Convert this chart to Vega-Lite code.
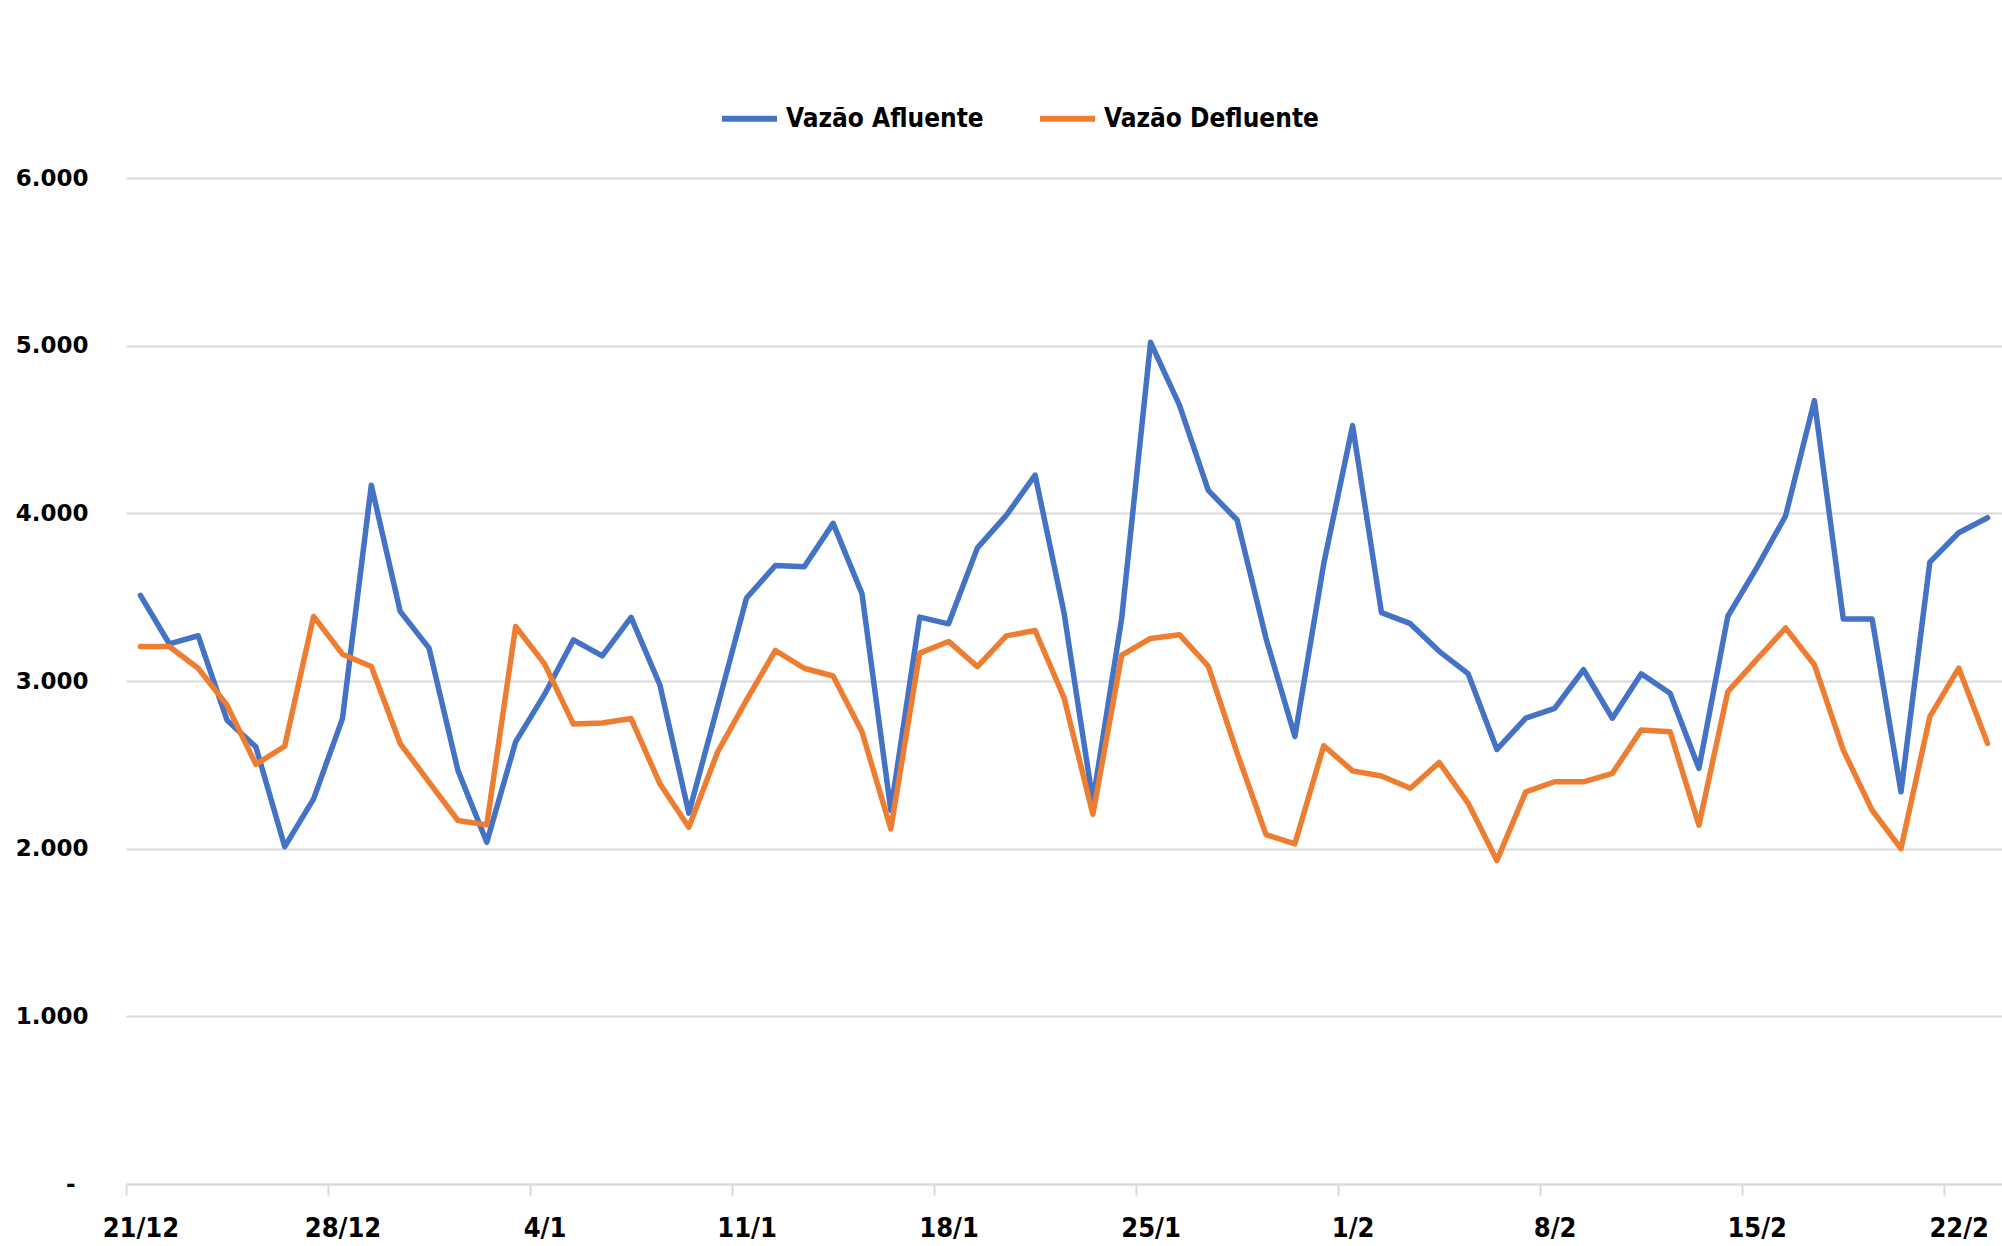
{
  "$schema": "https://vega.github.io/schema/vega-lite/v6.json",
  "width": 1876,
  "height": 1006,
  "autosize": {"type": "none"},
  "padding": {"left": 126, "top": 178, "right": 0, "bottom": 62},
  "background": "white",
  "config": {"view": {"stroke": null}},
  "datasets": {
    "vazao": [
      {"d": "2020-12-21T00:00", "s": "Vazão Afluente", "v": 3511}, {"d": "2020-12-21T00:00", "s": "Vazão Defluente", "v": 3206},
      {"d": "2020-12-22T00:00", "s": "Vazão Afluente", "v": 3222}, {"d": "2020-12-22T00:00", "s": "Vazão Defluente", "v": 3206},
      {"d": "2020-12-23T00:00", "s": "Vazão Afluente", "v": 3270}, {"d": "2020-12-23T00:00", "s": "Vazão Defluente", "v": 3076},
      {"d": "2020-12-24T00:00", "s": "Vazão Afluente", "v": 2766}, {"d": "2020-12-24T00:00", "s": "Vazão Defluente", "v": 2856},
      {"d": "2020-12-25T00:00", "s": "Vazão Afluente", "v": 2607}, {"d": "2020-12-25T00:00", "s": "Vazão Defluente", "v": 2503},
      {"d": "2020-12-26T00:00", "s": "Vazão Afluente", "v": 2012}, {"d": "2020-12-26T00:00", "s": "Vazão Defluente", "v": 2611},
      {"d": "2020-12-27T00:00", "s": "Vazão Afluente", "v": 2297}, {"d": "2020-12-27T00:00", "s": "Vazão Defluente", "v": 3385},
      {"d": "2020-12-28T00:00", "s": "Vazão Afluente", "v": 2776}, {"d": "2020-12-28T00:00", "s": "Vazão Defluente", "v": 3160},
      {"d": "2020-12-29T00:00", "s": "Vazão Afluente", "v": 4168}, {"d": "2020-12-29T00:00", "s": "Vazão Defluente", "v": 3086},
      {"d": "2020-12-30T00:00", "s": "Vazão Afluente", "v": 3415}, {"d": "2020-12-30T00:00", "s": "Vazão Defluente", "v": 2627},
      {"d": "2020-12-31T00:00", "s": "Vazão Afluente", "v": 3196}, {"d": "2020-12-31T00:00", "s": "Vazão Defluente", "v": 2397},
      {"d": "2021-01-01T00:00", "s": "Vazão Afluente", "v": 2467}, {"d": "2021-01-01T00:00", "s": "Vazão Defluente", "v": 2168},
      {"d": "2021-01-02T00:00", "s": "Vazão Afluente", "v": 2038}, {"d": "2021-01-02T00:00", "s": "Vazão Defluente", "v": 2142},
      {"d": "2021-01-03T00:00", "s": "Vazão Afluente", "v": 2637}, {"d": "2021-01-03T00:00", "s": "Vazão Defluente", "v": 3325},
      {"d": "2021-01-04T00:00", "s": "Vazão Afluente", "v": 2920}, {"d": "2021-01-04T00:00", "s": "Vazão Defluente", "v": 3102},
      {"d": "2021-01-05T00:00", "s": "Vazão Afluente", "v": 3245}, {"d": "2021-01-05T00:00", "s": "Vazão Defluente", "v": 2743},
      {"d": "2021-01-06T00:00", "s": "Vazão Afluente", "v": 3150}, {"d": "2021-01-06T00:00", "s": "Vazão Defluente", "v": 2750},
      {"d": "2021-01-07T00:00", "s": "Vazão Afluente", "v": 3379}, {"d": "2021-01-07T00:00", "s": "Vazão Defluente", "v": 2776},
      {"d": "2021-01-08T00:00", "s": "Vazão Afluente", "v": 2976}, {"d": "2021-01-08T00:00", "s": "Vazão Defluente", "v": 2387},
      {"d": "2021-01-09T00:00", "s": "Vazão Afluente", "v": 2212}, {"d": "2021-01-09T00:00", "s": "Vazão Defluente", "v": 2128},
      {"d": "2021-01-10T00:00", "s": "Vazão Afluente", "v": 2850}, {"d": "2021-01-10T00:00", "s": "Vazão Defluente", "v": 2577},
      {"d": "2021-01-11T00:00", "s": "Vazão Afluente", "v": 3495}, {"d": "2021-01-11T00:00", "s": "Vazão Defluente", "v": 2886},
      {"d": "2021-01-12T00:00", "s": "Vazão Afluente", "v": 3689}, {"d": "2021-01-12T00:00", "s": "Vazão Defluente", "v": 3182},
      {"d": "2021-01-13T00:00", "s": "Vazão Afluente", "v": 3681}, {"d": "2021-01-13T00:00", "s": "Vazão Defluente", "v": 3076},
      {"d": "2021-01-14T00:00", "s": "Vazão Afluente", "v": 3940}, {"d": "2021-01-14T00:00", "s": "Vazão Defluente", "v": 3030},
      {"d": "2021-01-15T00:00", "s": "Vazão Afluente", "v": 3521}, {"d": "2021-01-15T00:00", "s": "Vazão Defluente", "v": 2697},
      {"d": "2021-01-16T00:00", "s": "Vazão Afluente", "v": 2228}, {"d": "2021-01-16T00:00", "s": "Vazão Defluente", "v": 2118},
      {"d": "2021-01-17T00:00", "s": "Vazão Afluente", "v": 3381}, {"d": "2021-01-17T00:00", "s": "Vazão Defluente", "v": 3166},
      {"d": "2021-01-18T00:00", "s": "Vazão Afluente", "v": 3341}, {"d": "2021-01-18T00:00", "s": "Vazão Defluente", "v": 3236},
      {"d": "2021-01-19T00:00", "s": "Vazão Afluente", "v": 3794}, {"d": "2021-01-19T00:00", "s": "Vazão Defluente", "v": 3086},
      {"d": "2021-01-20T00:00", "s": "Vazão Afluente", "v": 3988}, {"d": "2021-01-20T00:00", "s": "Vazão Defluente", "v": 3269},
      {"d": "2021-01-21T00:00", "s": "Vazão Afluente", "v": 4228}, {"d": "2021-01-21T00:00", "s": "Vazão Defluente", "v": 3301},
      {"d": "2021-01-22T00:00", "s": "Vazão Afluente", "v": 3408}, {"d": "2021-01-22T00:00", "s": "Vazão Defluente", "v": 2901},
      {"d": "2021-01-23T00:00", "s": "Vazão Afluente", "v": 2283}, {"d": "2021-01-23T00:00", "s": "Vazão Defluente", "v": 2205},
      {"d": "2021-01-24T00:00", "s": "Vazão Afluente", "v": 3375}, {"d": "2021-01-24T00:00", "s": "Vazão Defluente", "v": 3155},
      {"d": "2021-01-25T00:00", "s": "Vazão Afluente", "v": 5020}, {"d": "2021-01-25T00:00", "s": "Vazão Defluente", "v": 3254},
      {"d": "2021-01-26T00:00", "s": "Vazão Afluente", "v": 4645}, {"d": "2021-01-26T00:00", "s": "Vazão Defluente", "v": 3276},
      {"d": "2021-01-27T00:00", "s": "Vazão Afluente", "v": 4137}, {"d": "2021-01-27T00:00", "s": "Vazão Defluente", "v": 3088},
      {"d": "2021-01-28T00:00", "s": "Vazão Afluente", "v": 3960}, {"d": "2021-01-28T00:00", "s": "Vazão Defluente", "v": 2570},
      {"d": "2021-01-29T00:00", "s": "Vazão Afluente", "v": 3254}, {"d": "2021-01-29T00:00", "s": "Vazão Defluente", "v": 2084},
      {"d": "2021-01-30T00:00", "s": "Vazão Afluente", "v": 2669}, {"d": "2021-01-30T00:00", "s": "Vazão Defluente", "v": 2029},
      {"d": "2021-01-31T00:00", "s": "Vazão Afluente", "v": 3700}, {"d": "2021-01-31T00:00", "s": "Vazão Defluente", "v": 2614},
      {"d": "2021-02-01T00:00", "s": "Vazão Afluente", "v": 4523}, {"d": "2021-02-01T00:00", "s": "Vazão Defluente", "v": 2464},
      {"d": "2021-02-02T00:00", "s": "Vazão Afluente", "v": 3408}, {"d": "2021-02-02T00:00", "s": "Vazão Defluente", "v": 2433},
      {"d": "2021-02-03T00:00", "s": "Vazão Afluente", "v": 3342}, {"d": "2021-02-03T00:00", "s": "Vazão Defluente", "v": 2360},
      {"d": "2021-02-04T00:00", "s": "Vazão Afluente", "v": 3177}, {"d": "2021-02-04T00:00", "s": "Vazão Defluente", "v": 2514},
      {"d": "2021-02-05T00:00", "s": "Vazão Afluente", "v": 3044}, {"d": "2021-02-05T00:00", "s": "Vazão Defluente", "v": 2272},
      {"d": "2021-02-06T00:00", "s": "Vazão Afluente", "v": 2592}, {"d": "2021-02-06T00:00", "s": "Vazão Defluente", "v": 1930},
      {"d": "2021-02-07T00:00", "s": "Vazão Afluente", "v": 2778}, {"d": "2021-02-07T00:00", "s": "Vazão Defluente", "v": 2339},
      {"d": "2021-02-08T00:00", "s": "Vazão Afluente", "v": 2837}, {"d": "2021-02-08T00:00", "s": "Vazão Defluente", "v": 2399},
      {"d": "2021-02-09T00:00", "s": "Vazão Afluente", "v": 3067}, {"d": "2021-02-09T00:00", "s": "Vazão Defluente", "v": 2399},
      {"d": "2021-02-10T00:00", "s": "Vazão Afluente", "v": 2778}, {"d": "2021-02-10T00:00", "s": "Vazão Defluente", "v": 2449},
      {"d": "2021-02-11T00:00", "s": "Vazão Afluente", "v": 3043}, {"d": "2021-02-11T00:00", "s": "Vazão Defluente", "v": 2708},
      {"d": "2021-02-12T00:00", "s": "Vazão Afluente", "v": 2927}, {"d": "2021-02-12T00:00", "s": "Vazão Defluente", "v": 2698},
      {"d": "2021-02-13T00:00", "s": "Vazão Afluente", "v": 2479}, {"d": "2021-02-13T00:00", "s": "Vazão Defluente", "v": 2140},
      {"d": "2021-02-14T00:00", "s": "Vazão Afluente", "v": 3386}, {"d": "2021-02-14T00:00", "s": "Vazão Defluente", "v": 2937},
      {"d": "2021-02-15T00:00", "s": "Vazão Afluente", "v": 3675}, {"d": "2021-02-15T00:00", "s": "Vazão Defluente", "v": 3127},
      {"d": "2021-02-16T00:00", "s": "Vazão Afluente", "v": 3984}, {"d": "2021-02-16T00:00", "s": "Vazão Defluente", "v": 3316},
      {"d": "2021-02-17T00:00", "s": "Vazão Afluente", "v": 4672}, {"d": "2021-02-17T00:00", "s": "Vazão Defluente", "v": 3097},
      {"d": "2021-02-18T00:00", "s": "Vazão Afluente", "v": 3370}, {"d": "2021-02-18T00:00", "s": "Vazão Defluente", "v": 2588},
      {"d": "2021-02-19T00:00", "s": "Vazão Afluente", "v": 3370}, {"d": "2021-02-19T00:00", "s": "Vazão Defluente", "v": 2229},
      {"d": "2021-02-20T00:00", "s": "Vazão Afluente", "v": 2339}, {"d": "2021-02-20T00:00", "s": "Vazão Defluente", "v": 2000},
      {"d": "2021-02-21T00:00", "s": "Vazão Afluente", "v": 3709}, {"d": "2021-02-21T00:00", "s": "Vazão Defluente", "v": 2788},
      {"d": "2021-02-22T00:00", "s": "Vazão Afluente", "v": 3884}, {"d": "2021-02-22T00:00", "s": "Vazão Defluente", "v": 3077},
      {"d": "2021-02-23T00:00", "s": "Vazão Afluente", "v": 3974}, {"d": "2021-02-23T00:00", "s": "Vazão Defluente", "v": 2628}
    ]
  },
  "data": {"name": "vazao"},
  "mark": {"type": "line", "strokeWidth": 5.5, "strokeJoin": "round", "strokeCap": "round"},
  "encoding": {
    "x": {
      "field": "d",
      "type": "temporal",
      "scale": {"domain": [{"year": 2020, "month": 12, "date": 20, "hours": 12}, {"year": 2021, "month": 2, "date": 23, "hours": 12}]},
      "axis": {
        "title": null,
        "values": [
          {"year": 2020, "month": 12, "date": 21}, {"year": 2020, "month": 12, "date": 28},
          {"year": 2021, "month": 1, "date": 4}, {"year": 2021, "month": 1, "date": 11},
          {"year": 2021, "month": 1, "date": 18}, {"year": 2021, "month": 1, "date": 25},
          {"year": 2021, "month": 2, "date": 1}, {"year": 2021, "month": 2, "date": 8},
          {"year": 2021, "month": 2, "date": 15}, {"year": 2021, "month": 2, "date": 22}
        ],
        "format": "%-d/%-m",
        "grid": false,
        "domainColor": "#D9D9D9",
        "domainWidth": 2,
        "tickColor": "#D9D9D9",
        "tickWidth": 2,
        "tickSize": 11,
        "tickOffset": -14.43,
        "labelOffset": 14.43,
        "labelPadding": 20,
        "labelFont": "DejaVu Sans Condensed, Liberation Sans Narrow, DejaVu Sans, sans-serif",
        "labelFontSize": 27,
        "labelFontWeight": "bold",
        "labelColor": "#000000",
        "labelFlush": false,
        "labelOverlap": false
      }
    },
    "y": {
      "field": "v",
      "type": "quantitative",
      "scale": {"domain": [0, 6000], "nice": false, "zero": true},
      "axis": {
        "title": null,
        "values": [0, 1000, 2000, 3000, 4000, 5000, 6000],
        "format": ",.0f",
        "labelExpr": "datum.value == 0 ? '-' : replace(datum.label, ',', '.')",
        "grid": true,
        "gridColor": "#D9D9D9",
        "gridWidth": 2,
        "domain": false,
        "ticks": false,
        "labelPadding": {"condition": {"test": "datum.value == 0", "value": 51}, "value": 38},
        "labelAlign": "right",
        "labelFont": "DejaVu Sans, sans-serif",
        "labelFontSize": 23,
        "labelFontWeight": "bold",
        "labelColor": "#000000"
      }
    },
    "color": {
      "field": "s",
      "type": "nominal",
      "scale": {"domain": ["Vazão Afluente", "Vazão Defluente"], "range": ["#4472C4", "#ED7D31"]},
      "legend": {
        "title": null,
        "orient": "none",
        "legendX": 593,
        "legendY": -90,
        "direction": "horizontal",
        "symbolType": "stroke",
        "symbolSize": 3025,
        "symbolStrokeWidth": 6,
        "labelFont": "DejaVu Sans Condensed, Liberation Sans Narrow, DejaVu Sans, sans-serif",
        "labelFontSize": 26,
        "labelFontWeight": "bold",
        "labelColor": "#000000",
        "labelOffset": 6,
        "labelLimit": 0,
        "columnPadding": 44
      }
    }
  }
}
